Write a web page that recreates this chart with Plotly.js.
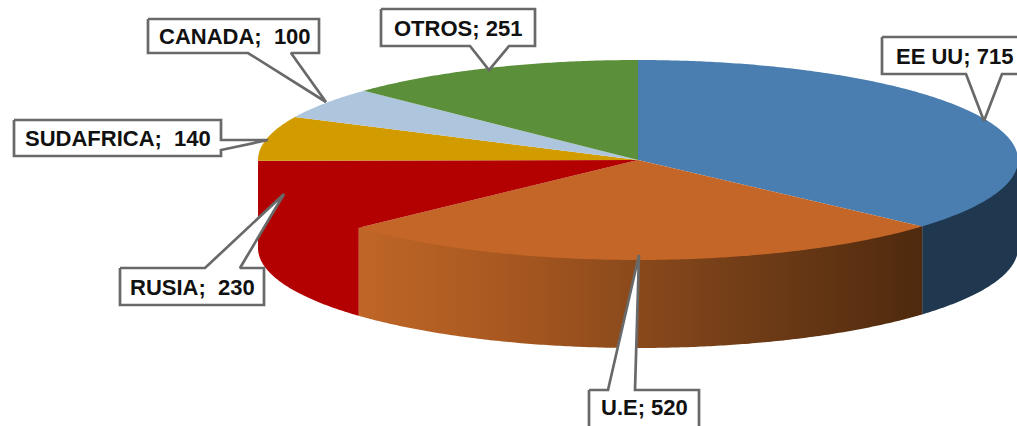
<!DOCTYPE html>
<html>
<head>
<meta charset="utf-8">
<script src="https://cdn.plot.ly/plotly-3.0.1.min.js"></script>
<style>html,body{margin:0;padding:0;background:#fff}#chart{width:1017px;height:426px}</style>
</head>
<body>
<div id="chart"></div>
<script>
// ---- data ----
var categories = ['EE UU', 'U.E', 'RUSIA', 'SUDAFRICA', 'CANADA', 'OTROS'];
var values = [715, 520, 230, 140, 100, 251];
var labelSeparators = ['; ', '; ', ';  ', ';  ', ';  ', '; '];

// ---- style ----
var topColors = ['#4a7eb0', '#c36627', '#b30000', '#d29c00', '#adc6de', '#5b8f3a'];
var wallFills = [
  {color: '#1f374f'},
  {gradient: [[0, '#c06628'], [0.3, '#a4561f'], [0.65, '#753f18'], [1, '#4f2a0e']]},
  {color: '#b30000'}
];

// ---- pie projection (page pixels) ----
var CX = 638, CY = 160, RX = 380, RY = 100, DEPTH = 88, TUCK = 2;
function px(deg) { return CX + RX * Math.sin(deg * Math.PI / 180); }
function py(deg) { return CY - RY * Math.cos(deg * Math.PI / 180); }
function arc(a, b) {
  var n = Math.max(2, Math.ceil(Math.abs(b - a))) * 2, pts = [];
  for (var i = 0; i <= n; i++) { pts.push(a + (b - a) * i / n); }
  return pts;
}

var total = values.reduce(function (s, v) { return s + v; }, 0);
var traces = [];
var start = 0;
var sectors = values.map(function (v) {
  var s = {a: start, b: start + v / total * 360};
  start = s.b;
  return s;
});

// side walls: only the front half of the rim (90..270 degrees) shows
sectors.forEach(function (s, i) {
  var a = Math.max(s.a, 90), b = Math.min(s.b, 270);
  if (b <= a || !wallFills[i]) { return; }
  var top = arc(a, b), bottom = arc(b, a);
  var t = {
    type: 'scatter', mode: 'none', hoverinfo: 'skip', showlegend: false, fill: 'toself',
    x: top.map(px).concat(bottom.map(px)),
    y: top.map(function (d) { return py(d) - TUCK; }).concat(bottom.map(function (d) { return py(d) + DEPTH; }))
  };
  if (wallFills[i].gradient) {
    t.fillgradient = {type: 'horizontal', colorscale: wallFills[i].gradient};
  } else {
    t.fillcolor = wallFills[i].color;
  }
  traces.push(t);
});

// top face slices
sectors.forEach(function (s, i) {
  var pts = arc(s.a, s.b);
  traces.push({
    type: 'scatter', mode: 'none', fill: 'toself', fillcolor: topColors[i],
    hoverinfo: 'text', text: categories[i] + ': ' + values[i], showlegend: false,
    x: [CX].concat(pts.map(px)).concat([CX]),
    y: [CY].concat(pts.map(py)).concat([CY])
  });
});

// ---- callouts (page pixels): box l,r,t,b, then pointer base1, tip, base2 ----
var callouts = [
  {box: [882, 1030, 37, 74], side: 'b', base: [966, 1002], tip: [984, 121], tx: 954, ty: 56},
  {box: [589, 699, 390, 440], side: 't', base: [608, 635], tip: [639, 255], tx: 644.5, ty: 407},
  {box: [120, 264, 268, 305], side: 't', base: [205, 240], tip: [284, 194], tx: 192.5, ty: 287},
  {box: [14, 221, 120, 156], side: 'r', base: [140, 150], tip: [268, 140], tx: 117.5, ty: 138},
  {box: [148, 319, 19, 53], side: 'b', base: [248, 291], tip: [326, 102], tx: 235, ty: 36},
  {box: [381, 535, 9, 46], side: 'b', base: [470, 509], tip: [489, 70], tx: 458, ty: 28}
];

var annotations = [];
callouts.forEach(function (c, i) {
  var l = c.box[0], r = c.box[1], t = c.box[2], b = c.box[3], xs, ys;
  if (c.side === 'b') {
    xs = [l, r, r, c.base[1], c.tip[0], c.base[0], l, l];
    ys = [t, t, b, b, c.tip[1], b, b, t];
  } else if (c.side === 't') {
    xs = [l, c.base[0], c.tip[0], c.base[1], r, r, l, l];
    ys = [t, t, c.tip[1], t, t, b, b, t];
  } else {
    xs = [l, r, r, c.tip[0], r, r, l, l];
    ys = [t, t, c.base[0], c.tip[1], c.base[1], b, b, t];
  }
  traces.push({
    type: 'scatter', mode: 'lines', fill: 'toself', fillcolor: '#ffffff',
    line: {color: '#696969', width: 2.7}, hoverinfo: 'skip', showlegend: false,
    x: xs, y: ys
  });
  annotations.push({
    xref: 'x', yref: 'y', x: c.tx, y: c.ty, showarrow: false,
    text: categories[i] + labelSeparators[i].replace('  ', ' \u00a0') + values[i],
    font: {family: '"Liberation Sans", Arial, sans-serif', size: 22, color: '#111111', weight: 700}
  });
});

Plotly.newPlot('chart', traces, {
  width: 1017, height: 426,
  margin: {l: 0, r: 0, t: 0, b: 0},
  paper_bgcolor: '#ffffff', plot_bgcolor: '#ffffff',
  showlegend: false,
  xaxis: {range: [0, 1017], visible: false, fixedrange: true},
  yaxis: {range: [426, 0], visible: false, fixedrange: true},
  annotations: annotations
}, {displayModeBar: false});
</script>
</body>
</html>
